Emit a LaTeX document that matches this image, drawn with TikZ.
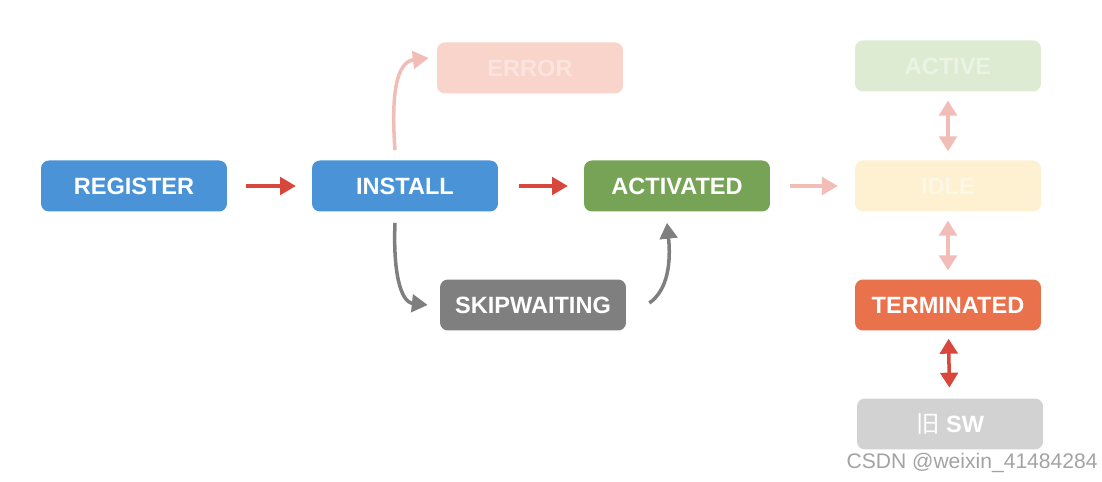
\documentclass[tikz,border=0pt]{standalone}
\usepackage{fontspec}
\setmainfont{Liberation Sans}
\newfontfamily\cjk{Noto Sans CJK SC}
\usetikzlibrary{arrows.meta,calc}
\definecolor{cblue}{HTML}{4A93D6}
\definecolor{cgreen}{HTML}{77A356}
\definecolor{cgray}{HTML}{7F7F7F}
\definecolor{cerr}{HTML}{F9D4CA}
\definecolor{cerrt}{HTML}{FCE4DE}
\definecolor{cact}{HTML}{DCEBD2}
\definecolor{cactt}{HTML}{EAF3E4}
\definecolor{cidle}{HTML}{FDF1D2}
\definecolor{cidlet}{HTML}{FEF7E6}
\definecolor{cterm}{HTML}{E9714B}
\definecolor{cold}{HTML}{D2D2D2}
\definecolor{cred}{HTML}{D8473B}
\definecolor{cpink}{HTML}{F2BDB6}
\definecolor{cwm}{HTML}{A3A3A3}
\begin{document}
\begin{tikzpicture}[x=0.02cm,y=-0.02cm,
  box/.style={rounded corners=4.5pt,minimum width=3.72cm,minimum height=1.02cm,inner sep=0pt,
    font=\fontsize{13.4}{15}\selectfont\bfseries,text=white},
  arr/.style={line width=2pt,-{Triangle[length=9pt,width=10pt]}},
  darr/.style={line width=2pt,{Triangle[length=8.5pt,width=10pt]}-{Triangle[length=8.5pt,width=10pt]}}]
\useasboundingbox (0,0) rectangle (1102,482);
\node[box,fill=cblue] (register) at (134,186) {REGISTER};
\node[box,fill=cblue] (install) at (405,186) {INSTALL};
\node[box,fill=cgreen] (activated) at (677,186) {ACTIVATED};
\node[box,fill=cerr,text=cerrt] (error) at (530,68) {ERROR};
\node[box,fill=cgray] (skip) at (533,305) {SKIPWAITING};
\node[box,fill=cact,text=cactt] (active) at (948,66) {ACTIVE};
\node[box,fill=cidle,text=cidlet] (idle) at (948,186) {IDLE};
\node[box,fill=cterm] (term) at (948,305) {TERMINATED};
\node[box,fill=cold] (old) at (950,424) {{\cjk\mdseries 旧} SW};
\node[text=cwm,font=\fontsize{12}{14}\selectfont,anchor=east,inner sep=0pt] (wm) at (1098,463) {CSDN @weixin\_41484284};
\draw[arr,cred,shorten <=10.8pt,shorten >=9pt] (register) -- (install);
\draw[arr,cred,shorten <=11.9pt,shorten >=9pt] (install) -- (activated);
\draw[arr,cpink,shorten <=11.3pt,shorten >=9.6pt] (activated) -- (idle);
\draw[arr,cpink] ($(install.north)+(-10,-10)$) .. controls (391,95) and (396,62) .. ($(error.west)+(-8,-10)$);
\draw[arr,cgray] ($(install.south)+(-10,11)$) .. controls (393,270) and (400,302) .. ($(skip.west)+(-12,0)$);
\draw[arr,cgray] ($(skip.east)+(23,-2)$) .. controls (668,290) and (671,262) .. ($(activated.south)+(-10,11)$);
\draw[darr,cpink,shorten <=5pt,shorten >=5pt] (active) -- (idle);
\draw[darr,cpink,shorten <=5pt,shorten >=5pt] (idle) -- (term);
\draw[darr,cred,shorten <=4.5pt,shorten >=6pt] (term) -- (old);
\end{tikzpicture}
\end{document}
